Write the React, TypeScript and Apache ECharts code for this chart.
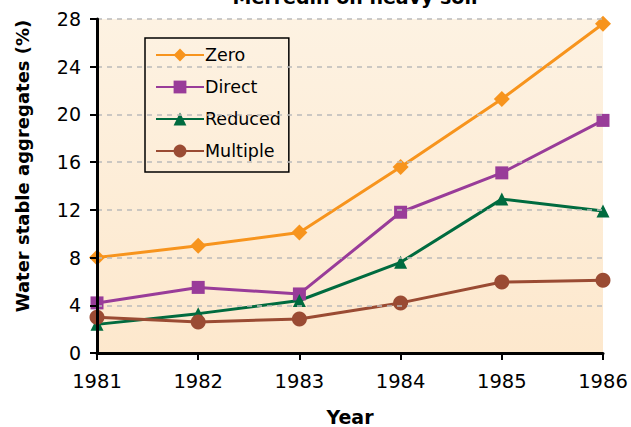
import React, { useEffect, useRef } from "react";
import * as echarts from "echarts";

const years = ["1981", "1982", "1983", "1984", "1985", "1986"];
const zero = [8.0, 9.0, 10.1, 15.6, 21.3, 27.6];
const direct = [4.2, 5.5, 4.95, 11.8, 15.1, 19.5];
const reduced = [2.4, 3.3, 4.4, 7.6, 12.9, 11.9];
const multiple = [3.0, 2.6, 2.85, 4.2, 5.95, 6.1];

const font = "DejaVu Sans, Verdana, sans-serif";

export default function App() {
  const ref = useRef<HTMLDivElement>(null);
  useEffect(() => {
    if (!ref.current) return;
    const chart = echarts.init(ref.current, null, { renderer: "svg" });
    const mk = (name: string, data: number[], color: string, symbol: string, size: number) => ({
      name,
      type: "line",
      data,
      symbol,
      symbolSize: size,
      lineStyle: { color, width: 3 },
      itemStyle: { color },
      z: 3,
    });
    chart.setOption({
      animation: false,
      textStyle: { fontFamily: font },
      grid: {
        left: 97,
        right: 28,
        top: 19,
        bottom: 74,
        show: true,
        borderWidth: 0,
        outerBoundsMode: "none",
        containLabel: false,
        backgroundColor: new echarts.graphic.LinearGradient(0, 0, 0, 1, [
          { offset: 0, color: "#fdf2e2" },
          { offset: 1, color: "#fde8cd" },
        ]),
      },
      legend: {
        orient: "vertical",
        left: 145,
        top: 38,
        borderColor: "#000",
        borderWidth: 1.5,
        padding: [8, 8, 12, 10],
        itemWidth: 48,
        itemHeight: 16,
        itemGap: 14,
        textStyle: { fontSize: 17.5, color: "#000", fontFamily: font, padding: [0, 0, 0, -4] },
        data: ["Zero", "Direct", "Reduced", "Multiple"],
      },
      graphic: [
        {
          type: "text",
          x: 355,
          y: -3,
          style: {
            text: "Merredin on heavy soil",
            fontSize: 19,
            fontWeight: "bold",
            fontFamily: font,
            fill: "#000",
            textAlign: "center",
            textVerticalAlign: "middle",
          },
        },
        {
          type: "text",
          x: 22,
          y: 166,
          rotation: Math.PI / 2,
          style: {
            text: "Water stable aggregates (%)",
            fontSize: 18,
            fontWeight: "bold",
            fontFamily: font,
            fill: "#000",
            textAlign: "center",
            textVerticalAlign: "middle",
          },
        },
      ],
      xAxis: {
        type: "category",
        data: years,
        boundaryGap: false,
        name: "Year",
        nameLocation: "middle",
        nameGap: 54,
        nameTextStyle: { fontSize: 19, fontWeight: "bold", color: "#000", fontFamily: font },
        axisLine: { lineStyle: { color: "#000", width: 3 } },
        axisTick: { show: true, length: 7, lineStyle: { color: "#000", width: 2 }, alignWithLabel: true },
        axisLabel: { fontSize: 19.5, color: "#000", margin: 18, fontFamily: font },
        splitLine: { show: false },
        z: 5,
      },
      yAxis: {
        type: "value",
        min: 0,
        max: 28,
        interval: 4,
        axisLine: { show: true, lineStyle: { color: "#000", width: 3 } },
        axisTick: { show: true, length: 7, lineStyle: { color: "#000", width: 2 } },
        axisLabel: { fontSize: 19, color: "#000", margin: 16, fontFamily: font },
        splitLine: { show: true, lineStyle: { color: "#bbbbbb", width: 1.5, type: [5, 5] } },
        z: 5,
      },
      series: [
        mk("Zero", zero, "#f7941d", "diamond", 16),
        mk("Direct", direct, "#993c99", "rect", 13),
        mk("Reduced", reduced, "#006b3f", "triangle", 13),
        mk("Multiple", multiple, "#9a4b33", "circle", 15),
      ],
    });
    return () => chart.dispose();
  }, []);
  return <div ref={ref} style={{ width: 631, height: 427, position: "absolute", left: 0, top: 0 }} />;
}
